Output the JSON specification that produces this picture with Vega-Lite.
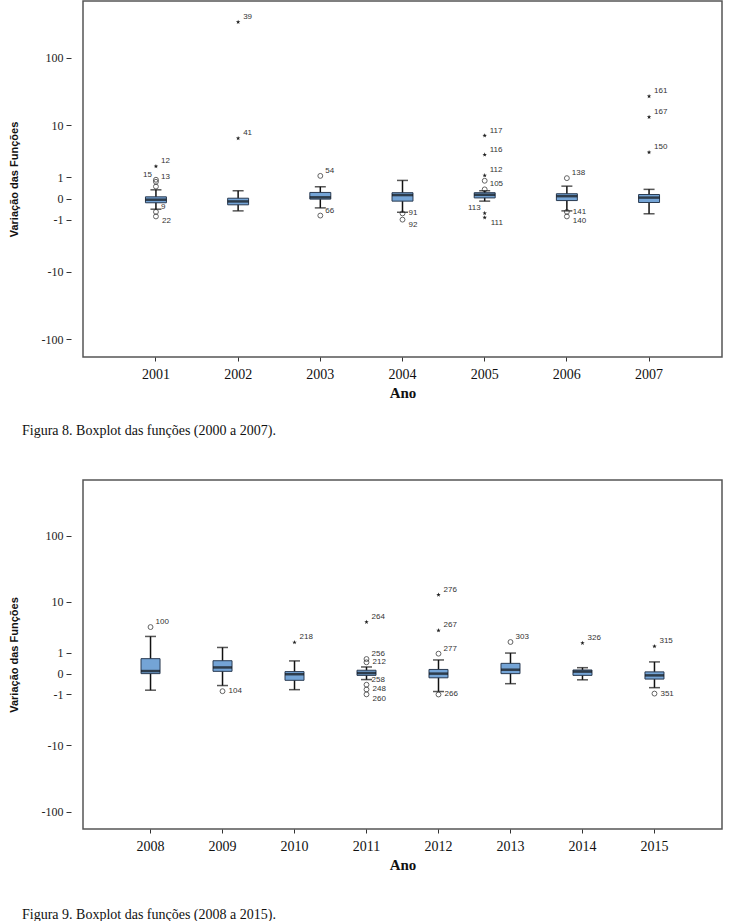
{
  "$schema": "https://vega.github.io/schema/vega-lite/v6.json",
  "padding": {"left": 7, "top": 0, "right": 8, "bottom": 0},
  "background": "white",
  "spacing": 40,
  "config": {
    "axis": {"grid": false},
    "view": {"stroke": "#555555", "strokeWidth": 1.5},
    "title": {"font": "Liberation Serif", "fontSize": 14, "fontWeight": "normal", "color": "#111111"}
  },
  "datasets": {
    "p1box": [
      {"ano": "2001", "lo": -0.42, "q1": -0.15, "med": -0.04, "q3": 0.057, "hi": 0.33},
      {"ano": "2002", "lo": -0.50, "q1": -0.23, "med": -0.10, "q3": 0.01, "hi": 0.29},
      {"ano": "2003", "lo": -0.36, "q1": -0.02, "med": 0.04, "q3": 0.22, "hi": 0.47},
      {"ano": "2004", "lo": -0.57, "q1": -0.09, "med": 0.12, "q3": 0.21, "hi": 0.81},
      {"ano": "2005", "lo": -0.09, "q1": 0.02, "med": 0.13, "q3": 0.21, "hi": 0.29},
      {"ano": "2006", "lo": -0.50, "q1": -0.07, "med": 0.08, "q3": 0.17, "hi": 0.50},
      {"ano": "2007", "lo": -0.65, "q1": -0.14, "med": 0.03, "q3": 0.14, "hi": 0.35}
    ],
    "p1out": [
      {"ano": "2001", "v": 1.87, "tipo": "e", "id": "12"},
      {"ano": "2001", "v": 0.85, "tipo": "o", "id": "15"},
      {"ano": "2001", "v": 0.73, "tipo": "o", "id": "13"},
      {"ano": "2001", "v": 0.48, "tipo": "o", "id": "-"},
      {"ano": "2001", "v": -0.55, "tipo": "o", "id": "9"},
      {"ano": "2001", "v": -0.80, "tipo": "o", "id": "22"},
      {"ano": "2002", "v": 6.2, "tipo": "e", "id": "41"},
      {"ano": "2002", "v": 326, "tipo": "e", "id": "39"},
      {"ano": "2003", "v": 1.1, "tipo": "o", "id": "54"},
      {"ano": "2003", "v": -0.75, "tipo": "o", "id": "66"},
      {"ano": "2004", "v": -0.63, "tipo": "o", "id": "91"},
      {"ano": "2004", "v": -1.0, "tipo": "o", "id": "92"},
      {"ano": "2005", "v": 6.87, "tipo": "e", "id": "117"},
      {"ano": "2005", "v": 3.21, "tipo": "e", "id": "116"},
      {"ano": "2005", "v": 1.13, "tipo": "e", "id": "112"},
      {"ano": "2005", "v": 0.79, "tipo": "o", "id": "-"},
      {"ano": "2005", "v": 0.35, "tipo": "o", "id": "105"},
      {"ano": "2005", "v": -0.62, "tipo": "e", "id": "113"},
      {"ano": "2005", "v": -0.87, "tipo": "e", "id": "111"},
      {"ano": "2006", "v": 0.95, "tipo": "o", "id": "138"},
      {"ano": "2006", "v": -0.55, "tipo": "o", "id": "141"},
      {"ano": "2006", "v": -0.80, "tipo": "o", "id": "140"},
      {"ano": "2007", "v": 3.54, "tipo": "e", "id": "150"},
      {"ano": "2007", "v": 13.5, "tipo": "e", "id": "167"},
      {"ano": "2007", "v": 27.6, "tipo": "e", "id": "161"}
    ],
    "p2box": [
      {"ano": "2008", "lo": -0.74, "q1": 0.0, "med": 0.09, "q3": 0.65, "hi": 2.47},
      {"ano": "2009", "lo": -0.49, "q1": 0.08, "med": 0.23, "q3": 0.54, "hi": 1.40},
      {"ano": "2010", "lo": -0.71, "q1": -0.25, "med": -0.02, "q3": 0.07, "hi": 0.53},
      {"ano": "2011", "lo": -0.22, "q1": -0.06, "med": 0.02, "q3": 0.12, "hi": 0.25},
      {"ano": "2012", "lo": -0.82, "q1": -0.15, "med": 0.0, "q3": 0.15, "hi": 0.58},
      {"ano": "2013", "lo": -0.40, "q1": 0.0, "med": 0.14, "q3": 0.41, "hi": 0.99},
      {"ano": "2014", "lo": -0.23, "q1": -0.06, "med": 0.07, "q3": 0.13, "hi": 0.22},
      {"ano": "2015", "lo": -0.60, "q1": -0.20, "med": -0.06, "q3": 0.06, "hi": 0.48}
    ],
    "p2out": [
      {"ano": "2008", "v": 3.75, "tipo": "o", "id": "100"},
      {"ano": "2009", "v": -0.80, "tipo": "o", "id": "104"},
      {"ano": "2010", "v": 1.84, "tipo": "e", "id": "218"},
      {"ano": "2011", "v": 4.61, "tipo": "e", "id": "264"},
      {"ano": "2011", "v": 0.63, "tipo": "o", "id": "256"},
      {"ano": "2011", "v": 0.46, "tipo": "o", "id": "212"},
      {"ano": "2011", "v": -0.45, "tipo": "o", "id": "258"},
      {"ano": "2011", "v": -0.70, "tipo": "o", "id": "248"},
      {"ano": "2011", "v": -1.0, "tipo": "o", "id": "260"},
      {"ano": "2012", "v": 12.96, "tipo": "e", "id": "276"},
      {"ano": "2012", "v": 3.24, "tipo": "e", "id": "267"},
      {"ano": "2012", "v": 0.95, "tipo": "o", "id": "277"},
      {"ano": "2012", "v": -1.01, "tipo": "o", "id": "266"},
      {"ano": "2013", "v": 1.88, "tipo": "o", "id": "303"},
      {"ano": "2014", "v": 1.78, "tipo": "e", "id": "326"},
      {"ano": "2015", "v": 1.49, "tipo": "e", "id": "315"},
      {"ano": "2015", "v": -0.95, "tipo": "o", "id": "351"}
    ]
  },
  "vconcat": [
    {
      "width": 639,
      "height": 356,
      "title": {"text": "Figura 8. Boxplot das funções (2000 a 2007).", "orient": "bottom", "anchor": "start", "frame": "group", "dx": -61, "offset": 24},
      "encoding": {
        "x": {"field": "ano", "type": "nominal", "scale": {"type": "band", "paddingInner": 0.745, "paddingOuter": 0.76},
          "axis": {"domain": false, "tickSize": 4, "tickColor": "#333333", "labelFont": "Liberation Serif", "labelFontSize": 14, "labelAngle": 0, "labelPadding": 6, "labelColor": "#111111", "title": "Ano", "titleFont": "Liberation Serif", "titleFontSize": 15, "titleFontWeight": "bold", "titlePadding": 4, "titleColor": "#111111"}}
      },
      "layer": [
        {"data": {"name": "p1box"}, "mark": {"type": "rule", "color": "#111111", "strokeWidth": 1.5},
          "encoding": {"y": {"field": "lo", "type": "quantitative", "title": "Variação das Funções",
            "scale": {"type": "symlog", "constant": 1, "domain": [-180, 650], "nice": false, "zero": false},
            "axis": {"values": [-100, -10, -1, 0, 1, 10, 100], "labelExpr": "datum.value < 0 ? '-' + abs(datum.value) : '' + datum.value", "domain": false, "offset": 12, "tickSize": 5, "tickColor": "#333333", "labelFont": "Liberation Serif", "labelFontSize": 12, "labelColor": "#222222", "labelPadding": 3, "titleFont": "Liberation Sans", "titleFontSize": 11, "titleFontWeight": "bold", "titlePadding": 22, "titleColor": "#111111"}},
            "y2": {"field": "hi"}}},
        {"data": {"name": "p1box"}, "mark": {"type": "tick", "color": "#111111", "size": 11, "thickness": 1.5},
          "encoding": {"y": {"field": "lo", "type": "quantitative", "title": "Variação das Funções"}}},
        {"data": {"name": "p1box"}, "mark": {"type": "tick", "color": "#111111", "size": 11, "thickness": 1.5},
          "encoding": {"y": {"field": "hi", "type": "quantitative", "title": "Variação das Funções"}}},
        {"data": {"name": "p1box"}, "mark": {"type": "bar", "fill": "#74a4d6", "stroke": "#2a3b52", "strokeWidth": 1},
          "encoding": {"y": {"field": "q1", "type": "quantitative", "title": "Variação das Funções"}, "y2": {"field": "q3"}}},
        {"data": {"name": "p1box"}, "mark": {"type": "tick", "color": "#111111", "size": 21, "thickness": 2.5},
          "encoding": {"y": {"field": "med", "type": "quantitative", "title": "Variação das Funções"}}},
        {"data": {"name": "p1out"}, "transform": [{"filter": "datum.tipo === 'o'"}],
          "mark": {"type": "point", "shape": "circle", "filled": false, "stroke": "#222222", "strokeWidth": 1, "size": 24},
          "encoding": {"y": {"field": "v", "type": "quantitative", "title": "Variação das Funções"}}},
        {"data": {"name": "p1out"}, "transform": [{"filter": "datum.tipo === 'e'"}],
          "mark": {"type": "point", "shape": "M0,-1L0.24,-0.33L0.95,-0.31L0.38,0.12L0.59,0.81L0,0.4L-0.59,0.81L-0.38,0.12L-0.95,-0.31L-0.24,-0.33Z", "filled": true, "color": "#222222", "size": 22, "opacity": 1},
          "encoding": {"y": {"field": "v", "type": "quantitative", "title": "Variação das Funções"}}},
        {"data": {"name": "p1out"}, "transform": [{"filter": {"not": {"field": "id", "oneOf": ["-", "15", "113", "22", "92", "111", "140", "91", "141"]}}}],
          "mark": {"type": "text", "align": "left", "baseline": "middle", "dx": 5, "dy": -5, "font": "Liberation Sans", "fontSize": 8, "color": "#333333"},
          "encoding": {"y": {"field": "v", "type": "quantitative", "title": "Variação das Funções"}, "text": {"field": "id"}}},
        {"data": {"name": "p1out"}, "transform": [{"filter": {"field": "id", "oneOf": ["91", "141"]}}],
          "mark": {"type": "text", "align": "left", "baseline": "middle", "dx": 6, "dy": 0, "font": "Liberation Sans", "fontSize": 8, "color": "#333333"},
          "encoding": {"y": {"field": "v", "type": "quantitative", "title": "Variação das Funções"}, "text": {"field": "id"}}},
        {"data": {"name": "p1out"}, "transform": [{"filter": {"field": "id", "oneOf": ["22", "92", "111", "140"]}}],
          "mark": {"type": "text", "align": "left", "baseline": "middle", "dx": 6, "dy": 5, "font": "Liberation Sans", "fontSize": 8, "color": "#333333"},
          "encoding": {"y": {"field": "v", "type": "quantitative", "title": "Variação das Funções"}, "text": {"field": "id"}}},
        {"data": {"name": "p1out"}, "transform": [{"filter": {"field": "id", "oneOf": ["15", "113"]}}],
          "mark": {"type": "text", "align": "right", "baseline": "middle", "dx": -4, "dy": -5, "font": "Liberation Sans", "fontSize": 8, "color": "#333333"},
          "encoding": {"y": {"field": "v", "type": "quantitative", "title": "Variação das Funções"}, "text": {"field": "id"}}}
      ]
    },
    {
      "width": 639,
      "height": 349,
      "title": {"text": "Figura 9. Boxplot das funções (2008 a 2015).", "orient": "bottom", "anchor": "start", "frame": "group", "dx": -61, "offset": 36},
      "encoding": {
        "x": {"field": "ano", "type": "nominal", "scale": {"type": "band", "paddingInner": 0.736, "paddingOuter": 0.806},
          "axis": {"domain": false, "tickSize": 4, "tickColor": "#333333", "labelFont": "Liberation Serif", "labelFontSize": 14, "labelAngle": 0, "labelPadding": 6, "labelColor": "#111111", "title": "Ano", "titleFont": "Liberation Serif", "titleFontSize": 15, "titleFontWeight": "bold", "titlePadding": 4, "titleColor": "#111111"}}
      },
      "layer": [
        {"data": {"name": "p2box"}, "mark": {"type": "rule", "color": "#111111", "strokeWidth": 1.5},
          "encoding": {"y": {"field": "lo", "type": "quantitative", "title": "Variação das Funções",
            "scale": {"type": "symlog", "constant": 1, "domain": [-180, 650], "nice": false, "zero": false},
            "axis": {"values": [-100, -10, -1, 0, 1, 10, 100], "labelExpr": "datum.value < 0 ? '-' + abs(datum.value) : '' + datum.value", "domain": false, "offset": 12, "tickSize": 5, "tickColor": "#333333", "labelFont": "Liberation Serif", "labelFontSize": 12, "labelColor": "#222222", "labelPadding": 3, "titleFont": "Liberation Sans", "titleFontSize": 11, "titleFontWeight": "bold", "titlePadding": 22, "titleColor": "#111111"}},
            "y2": {"field": "hi"}}},
        {"data": {"name": "p2box"}, "mark": {"type": "tick", "color": "#111111", "size": 11, "thickness": 1.5},
          "encoding": {"y": {"field": "lo", "type": "quantitative", "title": "Variação das Funções"}}},
        {"data": {"name": "p2box"}, "mark": {"type": "tick", "color": "#111111", "size": 11, "thickness": 1.5},
          "encoding": {"y": {"field": "hi", "type": "quantitative", "title": "Variação das Funções"}}},
        {"data": {"name": "p2box"}, "mark": {"type": "bar", "fill": "#74a4d6", "stroke": "#2a3b52", "strokeWidth": 1},
          "encoding": {"y": {"field": "q1", "type": "quantitative", "title": "Variação das Funções"}, "y2": {"field": "q3"}}},
        {"data": {"name": "p2box"}, "mark": {"type": "tick", "color": "#111111", "size": 19, "thickness": 2.5},
          "encoding": {"y": {"field": "med", "type": "quantitative", "title": "Variação das Funções"}}},
        {"data": {"name": "p2out"}, "transform": [{"filter": "datum.tipo === 'o'"}],
          "mark": {"type": "point", "shape": "circle", "filled": false, "stroke": "#222222", "strokeWidth": 1, "size": 24},
          "encoding": {"y": {"field": "v", "type": "quantitative", "title": "Variação das Funções"}}},
        {"data": {"name": "p2out"}, "transform": [{"filter": "datum.tipo === 'e'"}],
          "mark": {"type": "point", "shape": "M0,-1L0.24,-0.33L0.95,-0.31L0.38,0.12L0.59,0.81L0,0.4L-0.59,0.81L-0.38,0.12L-0.95,-0.31L-0.24,-0.33Z", "filled": true, "color": "#222222", "size": 22, "opacity": 1},
          "encoding": {"y": {"field": "v", "type": "quantitative", "title": "Variação das Funções"}}},
        {"data": {"name": "p2out"}, "transform": [{"filter": {"not": {"field": "id", "oneOf": ["212", "248", "260", "266", "351", "104"]}}}],
          "mark": {"type": "text", "align": "left", "baseline": "middle", "dx": 5, "dy": -5, "font": "Liberation Sans", "fontSize": 8, "color": "#333333"},
          "encoding": {"y": {"field": "v", "type": "quantitative", "title": "Variação das Funções"}, "text": {"field": "id"}}},
        {"data": {"name": "p2out"}, "transform": [{"filter": {"field": "id", "oneOf": ["212", "248", "351", "104", "266"]}}],
          "mark": {"type": "text", "align": "left", "baseline": "middle", "dx": 6, "dy": 0, "font": "Liberation Sans", "fontSize": 8, "color": "#333333"},
          "encoding": {"y": {"field": "v", "type": "quantitative", "title": "Variação das Funções"}, "text": {"field": "id"}}},
        {"data": {"name": "p2out"}, "transform": [{"filter": {"field": "id", "oneOf": ["260"]}}],
          "mark": {"type": "text", "align": "left", "baseline": "middle", "dx": 6, "dy": 5, "font": "Liberation Sans", "fontSize": 8, "color": "#333333"},
          "encoding": {"y": {"field": "v", "type": "quantitative", "title": "Variação das Funções"}, "text": {"field": "id"}}}
      ]
    }
  ]
}
